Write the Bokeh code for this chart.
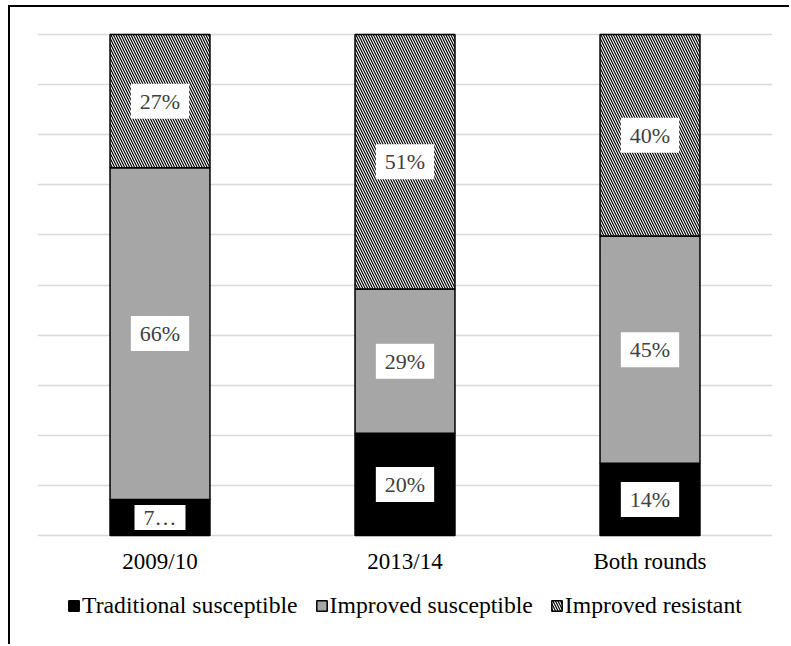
from bokeh.plotting import figure
from bokeh.models import ColumnDataSource, FactorRange, Range1d, Legend, LegendItem, FixedTicker
from bokeh.embed import file_html
from bokeh.resources import INLINE
from bokeh.core.properties import value

categories = ["2009/10", "2013/14", "Both rounds"]
traditional_susceptible = [7.2, 20.4, 14.4]
improved_susceptible = [66.2, 28.8, 45.4]
improved_resistant = [26.6, 50.8, 40.2]
series_names = ["Traditional susceptible", "Improved susceptible", "Improved resistant"]
y_ticks = [0, 10, 20, 30, 40, 50, 60, 70, 80, 90, 100]

FONT = "Liberation Serif"
PX_PER_UNIT = 5.01          # 100 % spans 501 px
BOTTOM_EXTRA = 111 / PX_PER_UNIT   # room under the baseline for labels + legend
TOP_EXTRA = 2 / PX_PER_UNIT        # keeps the 100 % gridline inside the frame

p = figure(width=781, height=639, x_range=FactorRange(*categories, range_padding=0),
           y_range=Range1d(-BOTTOM_EXTRA, 100 + TOP_EXTRA), output_backend="svg",
           toolbar_location=None, x_axis_location=None, y_axis_location=None,
           min_border_left=27, min_border_right=19, min_border_top=25, min_border_bottom=0)
p.margin = (5, 0, 0, 8)
p.styles = {"border-top": "2px solid black", "border-left": "2px solid black"}
p.x_range.range_padding = 0
p.outline_line_color = None
p.background_fill_color = "white"
p.border_fill_color = "white"

p.xgrid.grid_line_color = None
p.ygrid.ticker = FixedTicker(ticks=y_ticks)
p.ygrid.grid_line_color = "#D9D9D9"
p.ygrid.grid_line_width = 1.3

series = [traditional_susceptible, improved_susceptible, improved_resistant]
styles = [
    dict(fill_color="black", hatch_pattern=None),
    dict(fill_color="#A6A6A6", hatch_pattern=None),
    dict(fill_color="white", hatch_pattern="\\"),
]

bottoms = [0.0] * len(categories)
renderers = []
label_x, label_y, label_t = [], [], []
small_x, small_y, small_t = [], [], []
for vals, st in zip(series, styles):
    tops = [b + v for b, v in zip(bottoms, vals)]
    src = ColumnDataSource(dict(cat=categories, bottom=bottoms, top=tops))
    kw = dict(x="cat", bottom="bottom", top="top", width=0.408, source=src,
              fill_color=st["fill_color"], line_color="black", line_width=1.5)
    if st["hatch_pattern"]:
        kw.update(hatch_pattern=st["hatch_pattern"], hatch_color="black",
                  hatch_scale=5, hatch_weight=1.2)
    r = p.vbar(**kw)
    renderers.append(r)
    for c, b, t, v in zip(categories, bottoms, tops, vals):
        txt = f"{v:.0f}%"
        if v < 9:
            small_x.append(c); small_y.append((b + t) / 2); small_t.append(txt[0] + "…")
        else:
            label_x.append(c); label_y.append((b + t) / 2); label_t.append(txt)
    bottoms = tops

lab_src = ColumnDataSource(dict(x=label_x, y=label_y, t=label_t))
p.text(x="x", y="y", text="t", source=lab_src, text_align="center", text_baseline="middle",
       text_font=value(FONT), text_font_size=value("22px"), text_color="#404040",
       background_fill_color="white", padding=dict(left=9, right=9, top=5, bottom=5))
small_src = ColumnDataSource(dict(x=small_x, y=small_y, t=small_t))
p.text(x="x", y="y", text="t", source=small_src, text_align="center", text_baseline="middle",
       text_font=value(FONT), text_font_size=value("22px"), text_color="#404040",
       background_fill_color="white", padding=dict(left=9, right=9, top=0, bottom=0))

# category labels under the baseline
cat_src = ColumnDataSource(dict(x=categories, y=[-26 / PX_PER_UNIT] * len(categories), t=categories))
p.text(x="x", y="y", text="t", source=cat_src, text_align="center", text_baseline="middle",
       text_font=value(FONT), text_font_size=value("23px"), text_color="black")

legend = Legend(items=[LegendItem(label=n, renderers=[r]) for n, r in zip(series_names, renderers)],
                orientation="horizontal", location=(30, 27))
legend.label_text_font = FONT
legend.label_text_font_size = "23.7px"
legend.label_text_color = "black"
legend.glyph_width = 13
legend.glyph_height = 13
legend.label_standoff = 2
legend.spacing = 17
legend.padding = 0
legend.margin = 0
legend.border_line_color = None
legend.background_fill_alpha = 0
p.add_layout(legend)

open("out.html", "w").write(file_html(p, INLINE))
